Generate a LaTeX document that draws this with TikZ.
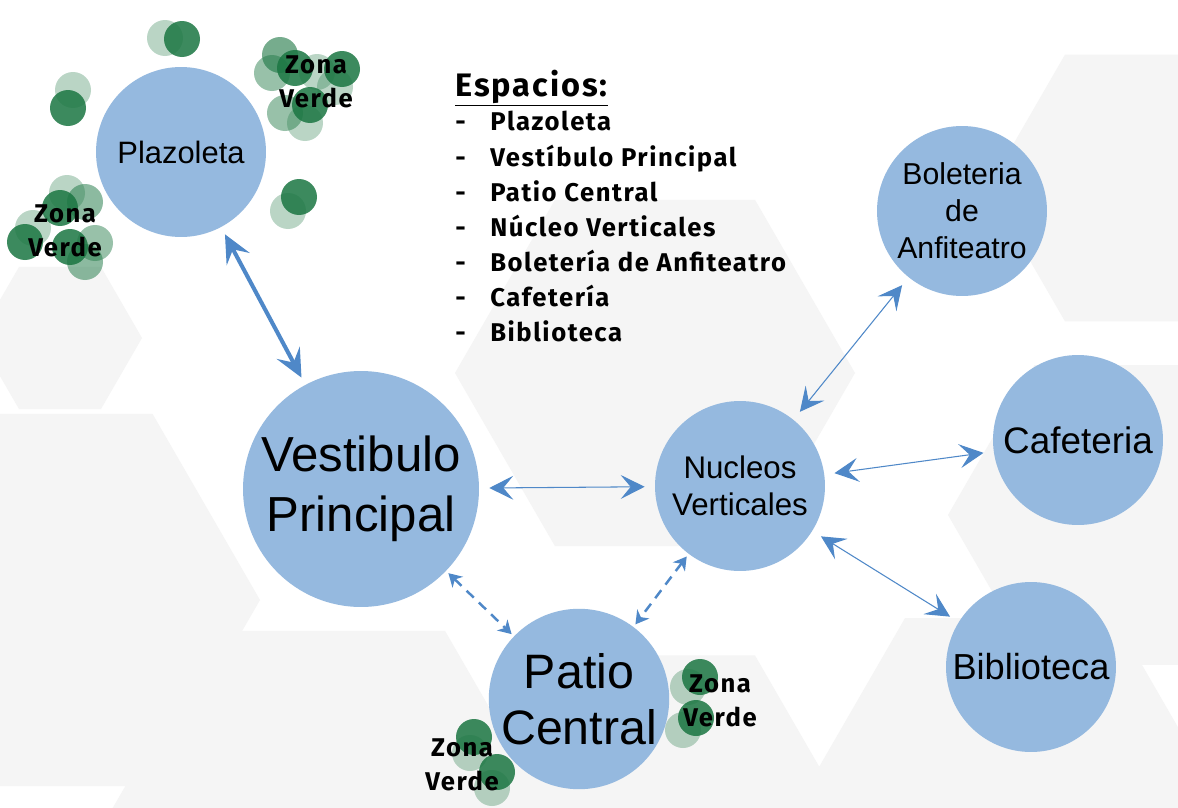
\documentclass[tikz,border=0pt]{standalone}
\usepackage{fontspec}
\setmainfont{Liberation Sans}
\newfontfamily\dinfont[LetterSpace=6]{Fira Sans}
\usetikzlibrary{arrows.meta,positioning}

\definecolor{bubble}{RGB}{149,185,223}
\definecolor{linkblue}{RGB}{79,136,200}
\definecolor{leafgreen}{RGB}{27,118,66}
\definecolor{hexgray}{RGB}{245,245,245}

% background hexagon: centre x, centre y, radius (px)
\newcommand{\hexa}[3]{\fill[hexgray] (#1,#2) ++(0:#3) -- ++(120:#3) -- ++(180:#3) -- ++(240:#3) -- ++(300:#3) -- ++(0:#3) -- cycle;}

\begin{document}
\begin{tikzpicture}[x=0.02cm, y=-0.02cm,
  room/.style={circle, fill=bubble, minimum size=3.4cm, inner sep=0pt, align=center},
  bigroom/.style={room, minimum size=4.72cm},
  zona/.style={align=center, inner sep=0pt, font=\dinfont\bfseries\fontsize{14.6}{19.3}\selectfont},
  listitem/.style={anchor=base west, inner sep=0pt, font=\dinfont\bfseries\fontsize{14.6}{19}\selectfont},
  mainlink/.style={linkblue, line width=2.3pt,
    {Stealth[length=0.56cm,width=0.52cm,inset=0.22cm]}-{Stealth[length=0.56cm,width=0.52cm,inset=0.22cm]},
    shorten >=0.16cm, shorten <=0.16cm},
  link/.style={linkblue, line width=0.6pt,
    {Stealth[length=0.48cm,width=0.48cm,inset=0.2cm]}-{Stealth[length=0.48cm,width=0.48cm,inset=0.2cm]},
    shorten >=0.2cm, shorten <=0.2cm},
  dlink/.style={linkblue, line width=1.4pt, dash pattern=on 0.2cm off 0.14cm,
    {Stealth[length=0.26cm,width=0.3cm,inset=0.08cm]}-{Stealth[length=0.26cm,width=0.3cm,inset=0.08cm]},
    shorten >=0.06cm, shorten <=0.06cm}
]
\useasboundingbox (0,0) rectangle (1178,808);
\fill[white] (0,0) rectangle (1178,808);

% background hexagons
\hexa{655}{373}{200}
\hexa{60}{338}{82}
\hexa{45}{600}{215}
\hexa{1142}{188}{154}
\hexa{1121}{515}{173}
\hexa{1010}{800}{210}
\hexa{330}{830}{230}
\hexa{660}{820}{190}

% rooms
\node[room, font=\fontsize{17.6}{21}\selectfont] (plaz) at (181,152) {Plazoleta};
\node[bigroom, font=\fontsize{28}{34}\selectfont] (vest) at (361,489) {Vestibulo\\Principal};
\node[room, font=\fontsize{17.8}{21}\selectfont] (nuc) at (740,486) {Nucleos\\Verticales};
\node[room, font=\fontsize{17.2}{21}\selectfont] (bol) at (962,211) {Boleteria\\de\\Anfiteatro};
\node[room, font=\fontsize{21}{24}\selectfont] (caf) at (1078,440) {Cafeteria};
\node[room, font=\fontsize{20.6}{24}\selectfont] (bib) at (1031,667) {Biblioteca};
\node[room, font=\fontsize{27.5}{31.7}\selectfont] (patio) at (579,699) {Patio\\Central};

% connections
\draw[mainlink] (plaz) -- (vest);
\draw[link] (vest) -- (nuc);
\draw[link] (nuc) -- (bol);
\draw[link] (nuc) -- (caf);
\draw[link] (nuc) -- (bib);
\draw[dlink] (vest) -- (patio);
\draw[dlink] (nuc) -- (patio);

% green areas
\foreach \x/\y/\o in {165/38/0.3, 182/39/0.85, 73/90/0.3, 68/108/0.85,
  280/55/0.6, 272/73/0.45, 295/68/0.85, 317/72/0.3, 342/69/0.85, 335/87/0.3,
  285/113/0.45, 310/105/0.85, 305/123/0.3, 299/197/0.85, 288/211/0.3,
  67/193/0.3, 60/208/0.85, 85/202/0.5, 33/228/0.3, 25/242/0.85,
  70/247/0.85, 95/243/0.45, 85/262/0.5,
  700/677/0.85, 688/687/0.3, 696/718/0.85, 683/730/0.3,
  474/737/0.85, 470/753/0.3, 497/772/0.85, 492/788/0.3}
  \fill[leafgreen, fill opacity=\o] (\x,\y) circle (18);

\node[zona] (zv1) at (316,82) {Zona\\Verde};
\node[zona] (zv2) at (65,231) {Zona\\Verde};
\node[zona] (zv3) at (720,701) {Zona\\Verde};
\node[zona] (zv4) at (462,765) {Zona\\Verde};

% list of spaces
\node[anchor=base west, inner sep=0pt, font=\dinfont\bfseries\fontsize{18.5}{20}\selectfont] (titulo) at (455,96) {\underline{Espacios:}};
\foreach \nombre [count=\i] in {Plazoleta, Vestíbulo Principal, Patio Central, Núcleo Verticales,
  Boletería de Anfiteatro, Cafetería, Biblioteca}
  \node[listitem] (item\i) at (455,96+35*\i) {\makebox[0.7cm][l]{-}\nombre};
\end{tikzpicture}
\end{document}
